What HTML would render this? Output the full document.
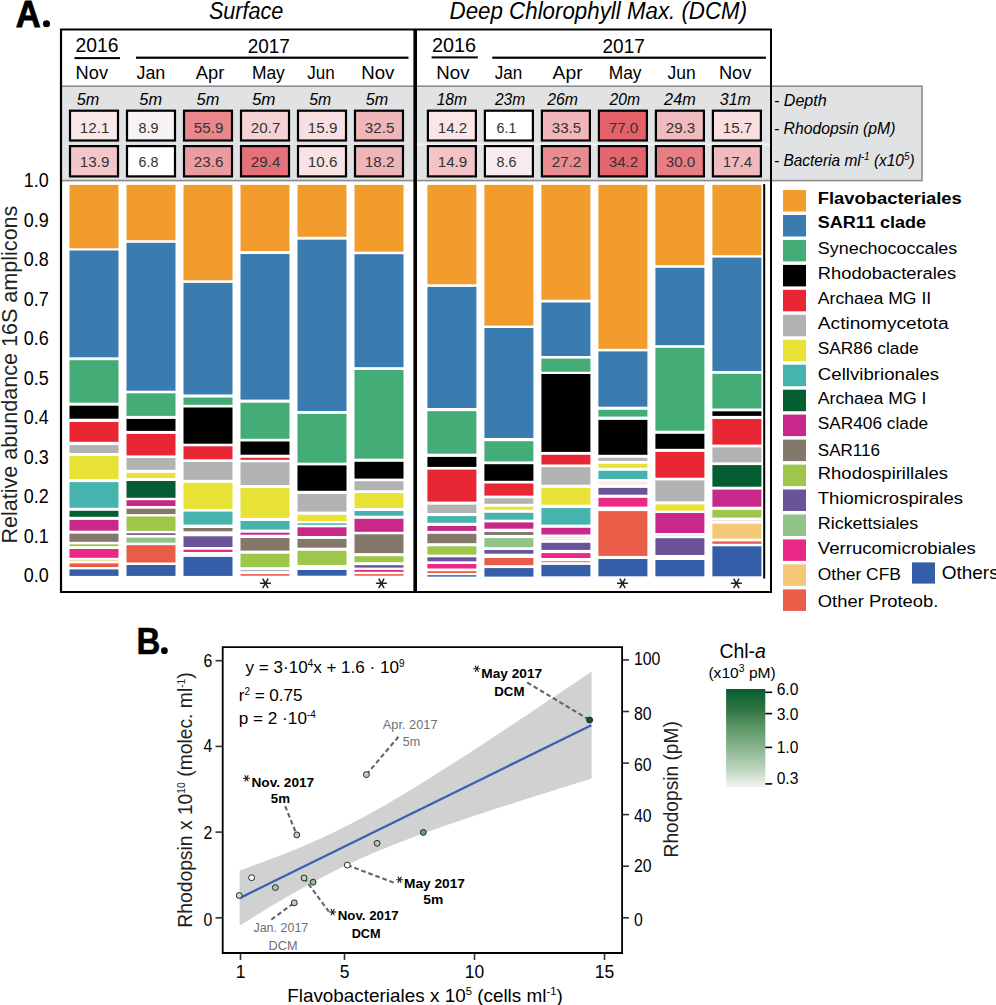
<!DOCTYPE html>
<html><head><meta charset="utf-8"><style>
html,body{margin:0;padding:0;background:#fff;}
svg{display:block;}
text{font-family:"Liberation Sans", sans-serif;}
</style></head><body>
<svg width="996" height="1005" viewBox="0 0 996 1005">
<rect width="996" height="1005" fill="#fff"/>
<rect x="61" y="86.2" width="861" height="94.4" fill="#e1e2e4" stroke="#8c8c8c" stroke-width="1.6"/>
<rect x="417" y="143.5" width="353" height="2" fill="#f4f4f5"/>
<rect x="69.5" y="184.9" width="49.0" height="63.4" fill="#f39c2e"/>
<rect x="69.5" y="250.5" width="49.0" height="106.8" fill="#3b7cb0"/>
<rect x="69.5" y="360.2" width="49.0" height="42.5" fill="#44ad77"/>
<rect x="69.5" y="405.7" width="49.0" height="13.0" fill="#000000"/>
<rect x="69.5" y="422" width="49.0" height="19.8" fill="#e82634"/>
<rect x="69.5" y="445.1" width="49.0" height="7.9" fill="#b1b3b3"/>
<rect x="69.5" y="455.9" width="49.0" height="23.3" fill="#e7e235"/>
<rect x="69.5" y="482.1" width="49.0" height="25.7" fill="#47b3ae"/>
<rect x="69.5" y="510.8" width="49.0" height="6.0" fill="#045e32"/>
<rect x="69.5" y="519.9" width="49.0" height="10.8" fill="#c8288a"/>
<rect x="69.5" y="533.6" width="49.0" height="8.2" fill="#84786a"/>
<rect x="69.5" y="544.3" width="49.0" height="1.8" fill="#9dc64a"/>
<rect x="69.5" y="549" width="49.0" height="8.8" fill="#ea2886"/>
<rect x="69.5" y="559.8" width="49.0" height="0.9" fill="#f5c878"/>
<rect x="69.5" y="563.4" width="49.0" height="3.6" fill="#e95c47"/>
<rect x="69.5" y="569.4" width="49.0" height="6.5" fill="#345ea8"/>
<rect x="126.5" y="184.9" width="49.0" height="55.3" fill="#f39c2e"/>
<rect x="126.5" y="242.8" width="49.0" height="147.9" fill="#3b7cb0"/>
<rect x="126.5" y="393.3" width="49.0" height="22.6" fill="#44ad77"/>
<rect x="126.5" y="418.9" width="49.0" height="12.0" fill="#000000"/>
<rect x="126.5" y="433.9" width="49.0" height="21.5" fill="#e82634"/>
<rect x="126.5" y="458" width="49.0" height="11.8" fill="#b1b3b3"/>
<rect x="126.5" y="472.9" width="49.0" height="5.1" fill="#e7e235"/>
<rect x="126.5" y="481" width="49.0" height="16.8" fill="#045e32"/>
<rect x="126.5" y="500.2" width="49.0" height="5.8" fill="#c8288a"/>
<rect x="126.5" y="508.7" width="49.0" height="5.4" fill="#84786a"/>
<rect x="126.5" y="516.5" width="49.0" height="14.4" fill="#9dc64a"/>
<rect x="126.5" y="533.3" width="49.0" height="1.6" fill="#6a5499"/>
<rect x="126.5" y="537.6" width="49.0" height="5.1" fill="#91c38b"/>
<rect x="126.5" y="545.2" width="49.0" height="17.3" fill="#e95c47"/>
<rect x="126.5" y="565" width="49.0" height="10.9" fill="#345ea8"/>
<rect x="183.5" y="184.9" width="49.0" height="95.4" fill="#f39c2e"/>
<rect x="183.5" y="282.9" width="49.0" height="111.6" fill="#3b7cb0"/>
<rect x="183.5" y="397.5" width="49.0" height="7.3" fill="#44ad77"/>
<rect x="183.5" y="407.5" width="49.0" height="36.2" fill="#000000"/>
<rect x="183.5" y="446.3" width="49.0" height="13.0" fill="#e82634"/>
<rect x="183.5" y="462" width="49.0" height="17.8" fill="#b1b3b3"/>
<rect x="183.5" y="482.8" width="49.0" height="26.2" fill="#e7e235"/>
<rect x="183.5" y="511.6" width="49.0" height="13.0" fill="#47b3ae"/>
<rect x="183.5" y="528" width="49.0" height="3.3" fill="#84786a"/>
<rect x="183.5" y="536.3" width="49.0" height="10.7" fill="#6a5499"/>
<rect x="183.5" y="549.7" width="49.0" height="2.3" fill="#ea2886"/>
<rect x="183.5" y="556.9" width="49.0" height="19.0" fill="#345ea8"/>
<rect x="240.5" y="184.9" width="49.0" height="66.2" fill="#f39c2e"/>
<rect x="240.5" y="254" width="49.0" height="145.6" fill="#3b7cb0"/>
<rect x="240.5" y="402.7" width="49.0" height="36.1" fill="#44ad77"/>
<rect x="240.5" y="441.5" width="49.0" height="13.2" fill="#000000"/>
<rect x="240.5" y="457.8" width="49.0" height="2.0" fill="#e82634"/>
<rect x="240.5" y="462.3" width="49.0" height="22.7" fill="#b1b3b3"/>
<rect x="240.5" y="488.1" width="49.0" height="29.8" fill="#e7e235"/>
<rect x="240.5" y="521" width="49.0" height="8.6" fill="#47b3ae"/>
<rect x="240.5" y="532.7" width="49.0" height="2.0" fill="#c8288a"/>
<rect x="240.5" y="538" width="49.0" height="12.6" fill="#84786a"/>
<rect x="240.5" y="553.7" width="49.0" height="13.5" fill="#9dc64a"/>
<rect x="240.5" y="570" width="49.0" height="1.2" fill="#b8aed8"/>
<rect x="240.5" y="574.1" width="49.0" height="1.6" fill="#e95c47"/>
<rect x="297.5" y="184.9" width="49.0" height="51.9" fill="#f39c2e"/>
<rect x="297.5" y="239.7" width="49.0" height="171.3" fill="#3b7cb0"/>
<rect x="297.5" y="413.9" width="49.0" height="48.8" fill="#44ad77"/>
<rect x="297.5" y="465.4" width="49.0" height="25.4" fill="#000000"/>
<rect x="297.5" y="494" width="49.0" height="17.6" fill="#b1b3b3"/>
<rect x="297.5" y="514.8" width="49.0" height="6.2" fill="#e7e235"/>
<rect x="297.5" y="523.3" width="49.0" height="1.5" fill="#47b3ae"/>
<rect x="297.5" y="527.3" width="49.0" height="8.7" fill="#c8288a"/>
<rect x="297.5" y="538.9" width="49.0" height="8.8" fill="#84786a"/>
<rect x="297.5" y="550.8" width="49.0" height="14.1" fill="#9dc64a"/>
<rect x="297.5" y="570" width="49.0" height="5.7" fill="#345ea8"/>
<rect x="354.5" y="184.9" width="49.0" height="66.7" fill="#f39c2e"/>
<rect x="354.5" y="254.2" width="49.0" height="113.0" fill="#3b7cb0"/>
<rect x="354.5" y="370" width="49.0" height="88.7" fill="#44ad77"/>
<rect x="354.5" y="461.8" width="49.0" height="16.8" fill="#000000"/>
<rect x="354.5" y="481.2" width="49.0" height="9.0" fill="#b1b3b3"/>
<rect x="354.5" y="493.1" width="49.0" height="14.9" fill="#e7e235"/>
<rect x="354.5" y="511" width="49.0" height="4.7" fill="#47b3ae"/>
<rect x="354.5" y="518.8" width="49.0" height="13.0" fill="#c8288a"/>
<rect x="354.5" y="534.3" width="49.0" height="18.8" fill="#84786a"/>
<rect x="354.5" y="556.2" width="49.0" height="6.0" fill="#9dc64a"/>
<rect x="354.5" y="565.2" width="49.0" height="2.4" fill="#6a5499"/>
<rect x="354.5" y="570" width="49.0" height="1.8" fill="#ea2886"/>
<rect x="354.5" y="574.1" width="49.0" height="1.6" fill="#e95c47"/>
<rect x="427.4" y="184.9" width="49.0" height="99.4" fill="#f39c2e"/>
<rect x="427.4" y="286.9" width="49.0" height="121.1" fill="#3b7cb0"/>
<rect x="427.4" y="411.2" width="49.0" height="42.5" fill="#44ad77"/>
<rect x="427.4" y="456.9" width="49.0" height="10.0" fill="#000000"/>
<rect x="427.4" y="469.6" width="49.0" height="32.0" fill="#e82634"/>
<rect x="427.4" y="504.7" width="49.0" height="8.3" fill="#b1b3b3"/>
<rect x="427.4" y="516.1" width="49.0" height="6.7" fill="#47b3ae"/>
<rect x="427.4" y="526" width="49.0" height="4.9" fill="#c8288a"/>
<rect x="427.4" y="533.8" width="49.0" height="9.4" fill="#84786a"/>
<rect x="427.4" y="546.3" width="49.0" height="8.3" fill="#9dc64a"/>
<rect x="427.4" y="557.3" width="49.0" height="4.0" fill="#6a5499"/>
<rect x="427.4" y="564" width="49.0" height="4.5" fill="#ea2886"/>
<rect x="427.4" y="571.2" width="49.0" height="1.8" fill="#e95c47"/>
<rect x="427.4" y="575.2" width="49.0" height="1.4" fill="#345ea8"/>
<rect x="484.4" y="184.9" width="49.0" height="140.7" fill="#f39c2e"/>
<rect x="484.4" y="328" width="49.0" height="110.0" fill="#3b7cb0"/>
<rect x="484.4" y="441.2" width="49.0" height="20.2" fill="#44ad77"/>
<rect x="484.4" y="464.2" width="49.0" height="16.6" fill="#000000"/>
<rect x="484.4" y="483.5" width="49.0" height="12.1" fill="#e82634"/>
<rect x="484.4" y="498.3" width="49.0" height="5.5" fill="#b1b3b3"/>
<rect x="484.4" y="506.7" width="49.0" height="3.1" fill="#e7e235"/>
<rect x="484.4" y="512.8" width="49.0" height="6.9" fill="#47b3ae"/>
<rect x="484.4" y="522.4" width="49.0" height="6.3" fill="#c8288a"/>
<rect x="484.4" y="532" width="49.0" height="3.0" fill="#84786a"/>
<rect x="484.4" y="538.1" width="49.0" height="9.1" fill="#91c38b"/>
<rect x="484.4" y="550" width="49.0" height="3.7" fill="#6a5499"/>
<rect x="484.4" y="558" width="49.0" height="7.2" fill="#e95c47"/>
<rect x="484.4" y="568.1" width="49.0" height="8.5" fill="#345ea8"/>
<rect x="541.4" y="184.9" width="49.0" height="114.9" fill="#f39c2e"/>
<rect x="541.4" y="302.5" width="49.0" height="53.5" fill="#3b7cb0"/>
<rect x="541.4" y="358.6" width="49.0" height="13.1" fill="#44ad77"/>
<rect x="541.4" y="374" width="49.0" height="77.9" fill="#000000"/>
<rect x="541.4" y="454.8" width="49.0" height="9.7" fill="#e82634"/>
<rect x="541.4" y="467.2" width="49.0" height="17.5" fill="#b1b3b3"/>
<rect x="541.4" y="487.9" width="49.0" height="16.8" fill="#e7e235"/>
<rect x="541.4" y="508" width="49.0" height="16.6" fill="#47b3ae"/>
<rect x="541.4" y="527.8" width="49.0" height="6.7" fill="#c8288a"/>
<rect x="541.4" y="536.8" width="49.0" height="0.8" fill="#dbe9c4"/>
<rect x="541.4" y="538.8" width="49.0" height="0.8" fill="#dbe9c4"/>
<rect x="541.4" y="542.8" width="49.0" height="7.1" fill="#6a5499"/>
<rect x="541.4" y="553.1" width="49.0" height="4.9" fill="#ea2886"/>
<rect x="541.4" y="561.3" width="49.0" height="0.9" fill="#e95c47"/>
<rect x="541.4" y="564.9" width="49.0" height="11.4" fill="#345ea8"/>
<rect x="598.4" y="184.9" width="49.0" height="163.9" fill="#f39c2e"/>
<rect x="598.4" y="351.4" width="49.0" height="55.3" fill="#3b7cb0"/>
<rect x="598.4" y="409.8" width="49.0" height="6.8" fill="#44ad77"/>
<rect x="598.4" y="419.9" width="49.0" height="34.9" fill="#000000"/>
<rect x="598.4" y="457.8" width="49.0" height="3.1" fill="#b1b3b3"/>
<rect x="598.4" y="463.8" width="49.0" height="4.0" fill="#e7e235"/>
<rect x="598.4" y="470.8" width="49.0" height="8.2" fill="#47b3ae"/>
<rect x="598.4" y="481.8" width="49.0" height="0.8" fill="#f7d0e0"/>
<rect x="598.4" y="483.6" width="49.0" height="0.8" fill="#dbe9c4"/>
<rect x="598.4" y="487.9" width="49.0" height="6.8" fill="#6a5499"/>
<rect x="598.4" y="497.8" width="49.0" height="8.8" fill="#ea2886"/>
<rect x="598.4" y="511.1" width="49.0" height="44.8" fill="#e95c47"/>
<rect x="598.4" y="559" width="49.0" height="17.3" fill="#345ea8"/>
<rect x="655.4" y="184.9" width="49.0" height="80.3" fill="#f39c2e"/>
<rect x="655.4" y="267.8" width="49.0" height="77.4" fill="#3b7cb0"/>
<rect x="655.4" y="347.8" width="49.0" height="82.9" fill="#44ad77"/>
<rect x="655.4" y="433.8" width="49.0" height="15.0" fill="#000000"/>
<rect x="655.4" y="451.9" width="49.0" height="25.8" fill="#e82634"/>
<rect x="655.4" y="480.4" width="49.0" height="20.9" fill="#b1b3b3"/>
<rect x="655.4" y="504.4" width="49.0" height="6.3" fill="#e7e235"/>
<rect x="655.4" y="513" width="49.0" height="20.0" fill="#c8288a"/>
<rect x="655.4" y="535.3" width="49.0" height="0.8" fill="#dbe9c4"/>
<rect x="655.4" y="538.2" width="49.0" height="16.8" fill="#6a5499"/>
<rect x="655.4" y="560" width="49.0" height="16.3" fill="#345ea8"/>
<rect x="712.4" y="184.9" width="49.0" height="70.3" fill="#f39c2e"/>
<rect x="712.4" y="257.6" width="49.0" height="113.4" fill="#3b7cb0"/>
<rect x="712.4" y="373.8" width="49.0" height="34.7" fill="#44ad77"/>
<rect x="712.4" y="411.3" width="49.0" height="4.6" fill="#000000"/>
<rect x="712.4" y="419" width="49.0" height="25.6" fill="#e82634"/>
<rect x="712.4" y="447.4" width="49.0" height="15.0" fill="#b1b3b3"/>
<rect x="712.4" y="465.1" width="49.0" height="21.6" fill="#045e32"/>
<rect x="712.4" y="489.6" width="49.0" height="17.1" fill="#c8288a"/>
<rect x="712.4" y="509.8" width="49.0" height="7.8" fill="#9dc64a"/>
<rect x="712.4" y="520.3" width="49.0" height="0.8" fill="#f7d0e0"/>
<rect x="712.4" y="523.7" width="49.0" height="15.0" fill="#f5c878"/>
<rect x="712.4" y="541.4" width="49.0" height="2.4" fill="#e95c47"/>
<rect x="712.4" y="546.3" width="49.0" height="30.0" fill="#345ea8"/>
<rect x="70.0" y="110.7" width="48" height="29.8" fill="#fbe9ea" stroke="#000" stroke-width="2.2"/>
<rect x="70.0" y="146.1" width="48" height="30.3" fill="#f3c6c9" stroke="#000" stroke-width="2.2"/>
<text x="94.6" y="133.1" font-size="15.2" text-anchor="middle" fill="#333">12.1</text>
<text x="94.6" y="166.9" font-size="15.2" text-anchor="middle" fill="#333">13.9</text>
<rect x="127.0" y="110.7" width="48" height="29.8" fill="#f7f2f4" stroke="#000" stroke-width="2.2"/>
<rect x="127.0" y="146.1" width="48" height="30.3" fill="#ffffff" stroke="#000" stroke-width="2.2"/>
<text x="148.5" y="133.1" font-size="15.3" text-anchor="middle" fill="#333" textLength="19.9" lengthAdjust="spacingAndGlyphs">8.9</text>
<text x="148.5" y="166.9" font-size="15.3" text-anchor="middle" fill="#333" textLength="19.9" lengthAdjust="spacingAndGlyphs">6.8</text>
<rect x="184.0" y="110.7" width="48" height="29.8" fill="#e9878c" stroke="#000" stroke-width="2.2"/>
<rect x="184.0" y="146.1" width="48" height="30.3" fill="#eb9ca0" stroke="#000" stroke-width="2.2"/>
<text x="208.6" y="133.1" font-size="15.2" text-anchor="middle" fill="#333">55.9</text>
<text x="208.6" y="166.9" font-size="15.2" text-anchor="middle" fill="#333">23.6</text>
<rect x="241.0" y="110.7" width="48" height="29.8" fill="#f5d2d4" stroke="#000" stroke-width="2.2"/>
<rect x="241.0" y="146.1" width="48" height="30.3" fill="#e5727a" stroke="#000" stroke-width="2.2"/>
<text x="265.6" y="133.1" font-size="15.2" text-anchor="middle" fill="#333">20.7</text>
<text x="265.6" y="166.9" font-size="15.2" text-anchor="middle" fill="#333">29.4</text>
<rect x="298.0" y="110.7" width="48" height="29.8" fill="#f8e0e2" stroke="#000" stroke-width="2.2"/>
<rect x="298.0" y="146.1" width="48" height="30.3" fill="#f8e2e3" stroke="#000" stroke-width="2.2"/>
<text x="322.6" y="133.1" font-size="15.2" text-anchor="middle" fill="#333">15.9</text>
<text x="322.6" y="166.9" font-size="15.2" text-anchor="middle" fill="#333">10.6</text>
<rect x="355.0" y="110.7" width="48" height="29.8" fill="#f0b7ba" stroke="#000" stroke-width="2.2"/>
<rect x="355.0" y="146.1" width="48" height="30.3" fill="#efb4b7" stroke="#000" stroke-width="2.2"/>
<text x="379.6" y="133.1" font-size="15.2" text-anchor="middle" fill="#333">32.5</text>
<text x="379.6" y="166.9" font-size="15.2" text-anchor="middle" fill="#333">18.2</text>
<rect x="427.9" y="110.7" width="48" height="29.8" fill="#fae6e7" stroke="#000" stroke-width="2.2"/>
<rect x="427.9" y="146.1" width="48" height="30.3" fill="#f3c3c6" stroke="#000" stroke-width="2.2"/>
<text x="452.5" y="133.1" font-size="15.2" text-anchor="middle" fill="#333">14.2</text>
<text x="452.5" y="166.9" font-size="15.2" text-anchor="middle" fill="#333">14.9</text>
<rect x="484.9" y="110.7" width="48" height="29.8" fill="#ffffff" stroke="#000" stroke-width="2.2"/>
<rect x="484.9" y="146.1" width="48" height="30.3" fill="#f9ecee" stroke="#000" stroke-width="2.2"/>
<text x="506.4" y="133.1" font-size="15.3" text-anchor="middle" fill="#333" textLength="19.9" lengthAdjust="spacingAndGlyphs">6.1</text>
<text x="506.4" y="166.9" font-size="15.3" text-anchor="middle" fill="#333" textLength="19.9" lengthAdjust="spacingAndGlyphs">8.6</text>
<rect x="541.9" y="110.7" width="48" height="29.8" fill="#f0b6b9" stroke="#000" stroke-width="2.2"/>
<rect x="541.9" y="146.1" width="48" height="30.3" fill="#e98c91" stroke="#000" stroke-width="2.2"/>
<text x="566.5" y="133.1" font-size="15.2" text-anchor="middle" fill="#333">33.5</text>
<text x="566.5" y="166.9" font-size="15.2" text-anchor="middle" fill="#333">27.2</text>
<rect x="598.9" y="110.7" width="48" height="29.8" fill="#e5616a" stroke="#000" stroke-width="2.2"/>
<rect x="598.9" y="146.1" width="48" height="30.3" fill="#e4656d" stroke="#000" stroke-width="2.2"/>
<text x="623.5" y="133.1" font-size="15.2" text-anchor="middle" fill="#333">77.0</text>
<text x="623.5" y="166.9" font-size="15.2" text-anchor="middle" fill="#333">34.2</text>
<rect x="655.9" y="110.7" width="48" height="29.8" fill="#f0bbbe" stroke="#000" stroke-width="2.2"/>
<rect x="655.9" y="146.1" width="48" height="30.3" fill="#e77e84" stroke="#000" stroke-width="2.2"/>
<text x="680.5" y="133.1" font-size="15.2" text-anchor="middle" fill="#333">29.3</text>
<text x="680.5" y="166.9" font-size="15.2" text-anchor="middle" fill="#333">30.0</text>
<rect x="712.9" y="110.7" width="48" height="29.8" fill="#f9dfe0" stroke="#000" stroke-width="2.2"/>
<rect x="712.9" y="146.1" width="48" height="30.3" fill="#f1bbbe" stroke="#000" stroke-width="2.2"/>
<text x="737.5" y="133.1" font-size="15.2" text-anchor="middle" fill="#333">15.7</text>
<text x="737.5" y="166.9" font-size="15.2" text-anchor="middle" fill="#333">17.4</text>
<path d="M61,592 V29.5 H414.5 V592 Z" fill="none" stroke="#000" stroke-width="2.2"/>
<path d="M416,592 V29.5 H771 V592 Z" fill="none" stroke="#000" stroke-width="2"/>
<rect x="763.2" y="184.1" width="2" height="394.4" fill="#000"/>
<text transform="translate(15.84,26.9) scale(0.932,1)" font-size="37" font-weight="bold" fill="#000" stroke="#000" stroke-width="0.9">A</text>
<circle cx="46.5" cy="23.7" r="3.55" fill="#000"/>
<text x="208.9" y="18.5" font-size="23.5" text-anchor="start" font-style="italic" textLength="74.5" lengthAdjust="spacingAndGlyphs">Surface</text>
<text x="449.6" y="18.9" font-size="23.5" text-anchor="start" font-style="italic" textLength="297.5" lengthAdjust="spacingAndGlyphs">Deep Chlorophyll Max. (DCM)</text>
<text x="75.6" y="52.4" font-size="20" text-anchor="start" textLength="42.9" lengthAdjust="spacingAndGlyphs">2016</text>
<rect x="74.5" y="57.1" width="45.5" height="2" fill="#000"/>
<text x="247.7" y="52.6" font-size="20" text-anchor="start" textLength="42.1" lengthAdjust="spacingAndGlyphs">2017</text>
<rect x="136" y="56.6" width="272.5" height="2.2" fill="#000"/>
<text x="431.9" y="52.4" font-size="20" text-anchor="start" textLength="44.1" lengthAdjust="spacingAndGlyphs">2016</text>
<rect x="431.6" y="56.4" width="46.2" height="2" fill="#000"/>
<text x="602.5" y="52.6" font-size="20" text-anchor="start" textLength="42.3" lengthAdjust="spacingAndGlyphs">2017</text>
<rect x="492.3" y="56.6" width="273.6" height="2.2" fill="#000"/>
<text x="75.6" y="79" font-size="18.7" text-anchor="start" textLength="32.4" lengthAdjust="spacingAndGlyphs">Nov</text>
<text x="136.5" y="79" font-size="18.7" text-anchor="start" textLength="28.8" lengthAdjust="spacingAndGlyphs">Jan</text>
<text x="195.7" y="79" font-size="18.7" text-anchor="start" textLength="28.6" lengthAdjust="spacingAndGlyphs">Apr</text>
<text x="251.9" y="79" font-size="18.7" text-anchor="start" textLength="32.9" lengthAdjust="spacingAndGlyphs">May</text>
<text x="307.3" y="79" font-size="18.7" text-anchor="start" textLength="27.5" lengthAdjust="spacingAndGlyphs">Jun</text>
<text x="361.3" y="79" font-size="18.7" text-anchor="start" textLength="33.1" lengthAdjust="spacingAndGlyphs">Nov</text>
<text x="436.3" y="79" font-size="18.7" text-anchor="start" textLength="33.2" lengthAdjust="spacingAndGlyphs">Nov</text>
<text x="494.8" y="79" font-size="18.7" text-anchor="start" textLength="27.5" lengthAdjust="spacingAndGlyphs">Jan</text>
<text x="552.6" y="79" font-size="18.7" text-anchor="start" textLength="30.0" lengthAdjust="spacingAndGlyphs">Apr</text>
<text x="608.7" y="79" font-size="18.7" text-anchor="start" textLength="32.8" lengthAdjust="spacingAndGlyphs">May</text>
<text x="667.6" y="79" font-size="18.7" text-anchor="start" textLength="28.2" lengthAdjust="spacingAndGlyphs">Jun</text>
<text x="718.9" y="79" font-size="18.7" text-anchor="start" textLength="32.5" lengthAdjust="spacingAndGlyphs">Nov</text>
<text x="76.7" y="104.9" font-size="17" text-anchor="start" font-style="italic" textLength="22.5" lengthAdjust="spacingAndGlyphs">5m</text>
<text x="139.3" y="104.9" font-size="17" text-anchor="start" font-style="italic" textLength="22.7" lengthAdjust="spacingAndGlyphs">5m</text>
<text x="196.6" y="104.9" font-size="17" text-anchor="start" font-style="italic" textLength="22.7" lengthAdjust="spacingAndGlyphs">5m</text>
<text x="251.9" y="104.9" font-size="17" text-anchor="start" font-style="italic" textLength="23.6" lengthAdjust="spacingAndGlyphs">5m</text>
<text x="309.3" y="104.9" font-size="17" text-anchor="start" font-style="italic" textLength="21.9" lengthAdjust="spacingAndGlyphs">5m</text>
<text x="365.8" y="104.9" font-size="17" text-anchor="start" font-style="italic" textLength="22.4" lengthAdjust="spacingAndGlyphs">5m</text>
<text x="436.7" y="104.9" font-size="17" text-anchor="start" font-style="italic" textLength="30.3" lengthAdjust="spacingAndGlyphs">18m</text>
<text x="494.9" y="104.9" font-size="17" text-anchor="start" font-style="italic" textLength="30.3" lengthAdjust="spacingAndGlyphs">23m</text>
<text x="547.2" y="104.9" font-size="17" text-anchor="start" font-style="italic" textLength="30.7" lengthAdjust="spacingAndGlyphs">26m</text>
<text x="609.6" y="104.9" font-size="17" text-anchor="start" font-style="italic" textLength="30.4" lengthAdjust="spacingAndGlyphs">20m</text>
<text x="664.1" y="104.9" font-size="17" text-anchor="start" font-style="italic" textLength="31.6" lengthAdjust="spacingAndGlyphs">24m</text>
<text x="719.8" y="104.9" font-size="17" text-anchor="start" font-style="italic" textLength="31.0" lengthAdjust="spacingAndGlyphs">31m</text>
<text x="774" y="105.8" font-size="17" text-anchor="start" font-style="italic" textLength="52.7" lengthAdjust="spacingAndGlyphs">- Depth</text>
<text x="774" y="133.9" font-size="17" text-anchor="start" font-style="italic" textLength="121.4" lengthAdjust="spacingAndGlyphs">- Rhodopsin (pM)</text>
<text x="774" y="166" font-size="17" text-anchor="start" font-style="italic" textLength="140.7" lengthAdjust="spacingAndGlyphs">- Bacteria ml<tspan font-size="11" dy="-6">-1</tspan><tspan dy="6"> (x10</tspan><tspan font-size="11" dy="-6">5</tspan><tspan dy="6">)</tspan></text>
<text x="23.7" y="582.3" font-size="19.5" text-anchor="start" textLength="25" lengthAdjust="spacingAndGlyphs">0.0</text>
<text x="23.7" y="542.8" font-size="19.5" text-anchor="start" textLength="25" lengthAdjust="spacingAndGlyphs">0.1</text>
<text x="23.7" y="503.3" font-size="19.5" text-anchor="start" textLength="25" lengthAdjust="spacingAndGlyphs">0.2</text>
<text x="23.7" y="463.8" font-size="19.5" text-anchor="start" textLength="25" lengthAdjust="spacingAndGlyphs">0.3</text>
<text x="23.7" y="424.3" font-size="19.5" text-anchor="start" textLength="25" lengthAdjust="spacingAndGlyphs">0.4</text>
<text x="23.7" y="384.8" font-size="19.5" text-anchor="start" textLength="25" lengthAdjust="spacingAndGlyphs">0.5</text>
<text x="23.7" y="345.2" font-size="19.5" text-anchor="start" textLength="25" lengthAdjust="spacingAndGlyphs">0.6</text>
<text x="23.7" y="305.7" font-size="19.5" text-anchor="start" textLength="25" lengthAdjust="spacingAndGlyphs">0.7</text>
<text x="23.7" y="266.2" font-size="19.5" text-anchor="start" textLength="25" lengthAdjust="spacingAndGlyphs">0.8</text>
<text x="23.7" y="226.7" font-size="19.5" text-anchor="start" textLength="25" lengthAdjust="spacingAndGlyphs">0.9</text>
<text x="23.7" y="187.2" font-size="19.5" text-anchor="start" textLength="25" lengthAdjust="spacingAndGlyphs">1.0</text>
<text transform="translate(17.2,543.6) rotate(-90)" font-size="21.8" fill="#231f20" textLength="338" lengthAdjust="spacingAndGlyphs">Relative abundance 16S amplicons</text>
<path d="M260.50,583.30L270.30,583.30M262.95,579.06L267.85,587.54M267.85,579.06L262.95,587.54" stroke="#231f20" stroke-width="1.5" stroke-linecap="round" fill="none"/>
<path d="M376.50,583.30L386.30,583.30M378.95,579.06L383.85,587.54M383.85,579.06L378.95,587.54" stroke="#231f20" stroke-width="1.5" stroke-linecap="round" fill="none"/>
<path d="M617.60,583.30L627.40,583.30M620.05,579.06L624.95,587.54M624.95,579.06L620.05,587.54" stroke="#231f20" stroke-width="1.5" stroke-linecap="round" fill="none"/>
<path d="M731.50,583.30L741.30,583.30M733.95,579.06L738.85,587.54M738.85,579.06L733.95,587.54" stroke="#231f20" stroke-width="1.5" stroke-linecap="round" fill="none"/>
<rect x="783" y="190.0" width="23" height="21.5" fill="#f39c2e"/>
<text x="817.8" y="203.8" font-size="17.4" text-anchor="start" font-weight="bold" textLength="144" lengthAdjust="spacingAndGlyphs">Flavobacteriales</text>
<rect x="783" y="215.0" width="23" height="21.5" fill="#3b7cb0"/>
<text x="817.8" y="228.3" font-size="17.4" text-anchor="start" font-weight="bold" textLength="108.2" lengthAdjust="spacingAndGlyphs">SAR11 clade</text>
<rect x="783" y="239.9" width="23" height="21.5" fill="#44ad77"/>
<text x="817.8" y="253.7" font-size="17.4" text-anchor="start" textLength="139.5" lengthAdjust="spacingAndGlyphs">Synechococcales</text>
<rect x="783" y="264.9" width="23" height="21.5" fill="#000000"/>
<text x="817.8" y="278.7" font-size="17.4" text-anchor="start" textLength="138.4" lengthAdjust="spacingAndGlyphs">Rhodobacterales</text>
<rect x="783" y="289.8" width="23" height="21.5" fill="#e82634"/>
<text x="817.8" y="303.7" font-size="17.4" text-anchor="start" textLength="113.4" lengthAdjust="spacingAndGlyphs">Archaea MG II</text>
<rect x="783" y="314.8" width="23" height="21.5" fill="#b1b3b3"/>
<text x="817.8" y="328.6" font-size="17.4" text-anchor="start" textLength="130.9" lengthAdjust="spacingAndGlyphs">Actinomycetota</text>
<rect x="783" y="339.8" width="23" height="21.5" fill="#e7e235"/>
<text x="817.8" y="353.6" font-size="17.4" text-anchor="start" textLength="100.9" lengthAdjust="spacingAndGlyphs">SAR86 clade</text>
<rect x="783" y="364.7" width="23" height="21.5" fill="#47b3ae"/>
<text x="817.8" y="380.1" font-size="17.4" text-anchor="start" textLength="121.3" lengthAdjust="spacingAndGlyphs">Cellvibrionales</text>
<rect x="783" y="389.7" width="23" height="21.5" fill="#045e32"/>
<text x="817.8" y="403.9" font-size="17.4" text-anchor="start" textLength="108.7" lengthAdjust="spacingAndGlyphs">Archaea MG I</text>
<rect x="783" y="414.6" width="23" height="21.5" fill="#c8288a"/>
<text x="817.8" y="429" font-size="17.4" text-anchor="start" textLength="110.3" lengthAdjust="spacingAndGlyphs">SAR406 clade</text>
<rect x="783" y="439.6" width="23" height="21.5" fill="#84786a"/>
<text x="817.8" y="456.4" font-size="17.4" text-anchor="start" textLength="62.1" lengthAdjust="spacingAndGlyphs">SAR116</text>
<rect x="783" y="464.6" width="23" height="21.5" fill="#9dc64a"/>
<text x="817.8" y="479.1" font-size="17.4" text-anchor="start" textLength="130.2" lengthAdjust="spacingAndGlyphs">Rhodospirillales</text>
<rect x="783" y="489.5" width="23" height="21.5" fill="#6a5499"/>
<text x="817.8" y="504.2" font-size="17.4" text-anchor="start" textLength="145.2" lengthAdjust="spacingAndGlyphs">Thiomicrospirales</text>
<rect x="783" y="514.5" width="23" height="21.5" fill="#91c38b"/>
<text x="817.8" y="529.3" font-size="17.4" text-anchor="start" textLength="100.5" lengthAdjust="spacingAndGlyphs">Rickettsiales</text>
<rect x="783" y="539.4" width="23" height="21.5" fill="#ea2886"/>
<text x="817.8" y="554.4" font-size="17.4" text-anchor="start" textLength="158.1" lengthAdjust="spacingAndGlyphs">Verrucomicrobiales</text>
<rect x="783" y="564.4" width="23" height="21.5" fill="#f5c878"/>
<text x="817.8" y="580.2" font-size="17.4" text-anchor="start" textLength="83.1" lengthAdjust="spacingAndGlyphs">Other CFB</text>
<rect x="783" y="589.4" width="23" height="21.5" fill="#e95c47"/>
<text x="817.8" y="606.5" font-size="17.4" text-anchor="start" textLength="120.6" lengthAdjust="spacingAndGlyphs">Other Proteob.</text>
<rect x="912" y="562.4" width="23" height="21.2" fill="#345ea8"/>
<text x="941.7" y="578.6" font-size="17.8" text-anchor="start" textLength="57" lengthAdjust="spacingAndGlyphs">Others</text>
<text transform="translate(136.5,653.9) scale(0.89,1)" font-size="37.1" font-weight="bold" fill="#000" stroke="#000" stroke-width="0.6">B</text>
<circle cx="164.4" cy="650.7" r="3.4" fill="#000"/>
<polygon points="239.6,870.4 245.5,868.4 251.3,866.3 257.2,864.1 263.1,862.0 268.9,859.8 274.8,857.5 280.7,855.3 286.5,852.9 292.4,850.6 298.3,848.2 304.1,845.7 310.0,843.2 315.9,840.6 321.7,837.9 327.6,835.2 333.5,832.4 339.3,829.6 345.2,826.6 351.1,823.7 356.9,820.6 362.8,817.5 368.7,814.3 374.5,811.0 380.4,807.7 386.3,804.4 392.1,801.0 398.0,797.5 403.9,794.0 409.7,790.5 415.6,786.9 421.5,783.3 427.3,779.7 433.2,776.0 439.1,772.3 444.9,768.6 450.8,764.8 456.7,761.1 462.5,757.3 468.4,753.5 474.3,749.7 480.1,745.9 486.0,742.0 491.9,738.2 497.7,734.3 503.6,730.4 509.5,726.6 515.3,722.7 521.2,718.8 527.1,714.9 532.9,711.0 538.8,707.0 544.7,703.1 550.5,699.2 556.4,695.3 562.3,691.3 568.1,687.4 574.0,683.4 579.9,679.5 585.7,675.5 591.6,671.6 591.6,778.6 585.7,780.4 579.9,782.2 574.0,784.1 568.1,785.9 562.3,787.7 556.4,789.5 550.5,791.4 544.7,793.2 538.8,795.0 532.9,796.9 527.1,798.7 521.2,800.6 515.3,802.5 509.5,804.4 503.6,806.2 497.7,808.1 491.9,810.0 486.0,812.0 480.1,813.9 474.3,815.8 468.4,817.8 462.5,819.8 456.7,821.8 450.8,823.8 444.9,825.8 439.1,827.8 433.2,829.9 427.3,832.0 421.5,834.1 415.6,836.3 409.7,838.5 403.9,840.7 398.0,843.0 392.1,845.3 386.3,847.7 380.4,850.1 374.5,852.5 368.7,855.0 362.8,857.6 356.9,860.3 351.1,863.0 345.2,865.8 339.3,868.6 333.5,871.5 327.6,874.5 321.7,877.5 315.9,880.7 310.0,883.8 304.1,887.1 298.3,890.4 292.4,893.7 286.5,897.1 280.7,900.6 274.8,904.1 268.9,907.6 263.1,911.2 257.2,914.8 251.3,918.4 245.5,922.1 239.6,925.8" fill="#d0d1d1"/>
<line x1="239.6" y1="898.1" x2="591.3" y2="725.2" stroke="#3a60b5" stroke-width="2.3"/>
<line x1="366.4" y1="774.6" x2="398.5" y2="736.7" stroke="#636466" stroke-width="2.1" stroke-dasharray="4.6,2.9"/>
<line x1="285.2" y1="806.1" x2="296.7" y2="834.7" stroke="#636466" stroke-width="2.1" stroke-dasharray="4.6,2.9"/>
<line x1="271.4" y1="919.5" x2="293.9" y2="903.1" stroke="#636466" stroke-width="2.1" stroke-dasharray="4.6,2.9"/>
<line x1="304.1" y1="878" x2="328.8" y2="911.6" stroke="#636466" stroke-width="2.1" stroke-dasharray="4.6,2.9"/>
<line x1="347.3" y1="865.1" x2="395.8" y2="883.4" stroke="#636466" stroke-width="2.1" stroke-dasharray="4.6,2.9"/>
<line x1="527.2" y1="682.5" x2="589.6" y2="720" stroke="#636466" stroke-width="2.1" stroke-dasharray="4.6,2.9"/>
<circle cx="239.2" cy="895.5" r="2.95" fill="#c1dcbf" stroke="#262626" stroke-width="1"/>
<circle cx="251.6" cy="877.7" r="2.95" fill="#ffffff" stroke="#262626" stroke-width="1"/>
<circle cx="275.4" cy="887.6" r="2.95" fill="#a3caa3" stroke="#262626" stroke-width="1"/>
<circle cx="294.3" cy="902.8" r="2.95" fill="#b5d6b3" stroke="#262626" stroke-width="1"/>
<circle cx="296.8" cy="834.9" r="2.95" fill="#b5d6b3" stroke="#262626" stroke-width="1"/>
<circle cx="304.1" cy="878" r="2.95" fill="#b5d6b3" stroke="#262626" stroke-width="1"/>
<circle cx="313.1" cy="882.2" r="2.95" fill="#8cbd8f" stroke="#262626" stroke-width="1"/>
<circle cx="347.3" cy="865.1" r="2.95" fill="#ffffff" stroke="#262626" stroke-width="1"/>
<circle cx="366.4" cy="774.6" r="2.95" fill="#b5d6b3" stroke="#262626" stroke-width="1"/>
<circle cx="377.1" cy="843.3" r="2.95" fill="#a9cfa8" stroke="#262626" stroke-width="1"/>
<circle cx="423.3" cy="832.4" r="2.95" fill="#6aa673" stroke="#262626" stroke-width="1"/>
<circle cx="589.6" cy="720" r="2.95" fill="#0b5a2e" stroke="#262626" stroke-width="1"/>
<path d="M222.7,647.2 H622.1 V953 H222.7 Z" fill="none" stroke="#000" stroke-width="1.8"/>
<line x1="215.5" y1="917.8" x2="222" y2="917.8" stroke="#333" stroke-width="1.6"/>
<text x="212.4" y="926.0" font-size="18" text-anchor="end" textLength="8.8" lengthAdjust="spacingAndGlyphs">0</text>
<line x1="215.5" y1="832.1" x2="222" y2="832.1" stroke="#333" stroke-width="1.6"/>
<text x="212.4" y="838.7" font-size="18" text-anchor="end" textLength="8.8" lengthAdjust="spacingAndGlyphs">2</text>
<line x1="215.5" y1="746.4" x2="222" y2="746.4" stroke="#333" stroke-width="1.6"/>
<text x="212.4" y="751.9" font-size="18" text-anchor="end" textLength="8.8" lengthAdjust="spacingAndGlyphs">4</text>
<line x1="215.5" y1="660.7" x2="222" y2="660.7" stroke="#333" stroke-width="1.6"/>
<text x="212.4" y="666.9" font-size="18" text-anchor="end" textLength="8.8" lengthAdjust="spacingAndGlyphs">6</text>
<line x1="623" y1="917.8" x2="629" y2="917.8" stroke="#333" stroke-width="1.6"/>
<text x="634" y="925.7" font-size="18" text-anchor="start" textLength="8.8" lengthAdjust="spacingAndGlyphs">0</text>
<line x1="623" y1="866.2" x2="629" y2="866.2" stroke="#333" stroke-width="1.6"/>
<text x="634" y="872.3" font-size="18" text-anchor="start" textLength="17.6" lengthAdjust="spacingAndGlyphs">20</text>
<line x1="623" y1="814.6" x2="629" y2="814.6" stroke="#333" stroke-width="1.6"/>
<text x="634" y="822.4" font-size="18" text-anchor="start" textLength="17.6" lengthAdjust="spacingAndGlyphs">40</text>
<line x1="623" y1="763.1" x2="629" y2="763.1" stroke="#333" stroke-width="1.6"/>
<text x="634" y="771.2" font-size="18" text-anchor="start" textLength="17.6" lengthAdjust="spacingAndGlyphs">60</text>
<line x1="623" y1="711.5" x2="629" y2="711.5" stroke="#333" stroke-width="1.6"/>
<text x="634" y="720.1" font-size="18" text-anchor="start" textLength="17.6" lengthAdjust="spacingAndGlyphs">80</text>
<line x1="623" y1="659.9" x2="629" y2="659.9" stroke="#333" stroke-width="1.6"/>
<text x="634" y="665.4" font-size="18" text-anchor="start" textLength="26.400000000000002" lengthAdjust="spacingAndGlyphs">100</text>
<line x1="240.5" y1="953.5" x2="240.5" y2="960" stroke="#333" stroke-width="1.6"/>
<text x="240.5" y="977.8" font-size="17.5" text-anchor="middle">1</text>
<line x1="344.5" y1="953.5" x2="344.5" y2="960" stroke="#333" stroke-width="1.6"/>
<text x="344.5" y="977.8" font-size="17.5" text-anchor="middle">5</text>
<line x1="474.5" y1="953.5" x2="474.5" y2="960" stroke="#333" stroke-width="1.6"/>
<text x="474.5" y="977.8" font-size="17.5" text-anchor="middle">10</text>
<line x1="604.5" y1="953.5" x2="604.5" y2="960" stroke="#333" stroke-width="1.6"/>
<text x="604.5" y="977.8" font-size="17.5" text-anchor="middle">15</text>
<text x="287.2" y="1002" font-size="18.5" text-anchor="start" textLength="275.5" lengthAdjust="spacingAndGlyphs">Flavobacteriales x 10<tspan font-size="11" dy="-7">5</tspan><tspan dy="7"> (cells ml</tspan><tspan font-size="11" dy="-7">-1</tspan><tspan dy="7">)</tspan></text>
<text transform="translate(192.2,927.7) rotate(-90)" font-size="20.5" fill="#231f20" textLength="255.5" lengthAdjust="spacingAndGlyphs">Rhodopsin x 10<tspan font-size="11" dy="-7">10</tspan><tspan dy="7"> (molec. ml</tspan><tspan font-size="11" dy="-7">-1</tspan><tspan dy="7">)</tspan></text>
<text transform="translate(678.3,857.4) rotate(-90)" font-size="20.5" fill="#231f20" textLength="136.2" lengthAdjust="spacingAndGlyphs">Rhodopsin (pM)</text>
<text x="245.5" y="673" font-size="17.3" text-anchor="start" textLength="159" lengthAdjust="spacingAndGlyphs">y = 3·10<tspan font-size="10" dy="-6">4</tspan><tspan dy="6">x + 1.6 · 10</tspan><tspan font-size="10" dy="-6">9</tspan></text>
<text x="238.7" y="700.6" font-size="17.3" text-anchor="start" textLength="63.9" lengthAdjust="spacingAndGlyphs">r<tspan font-size="10" dy="-6">2</tspan><tspan dy="6"> = 0.75</tspan></text>
<text x="238.7" y="723.5" font-size="17.3" text-anchor="start" textLength="77.1" lengthAdjust="spacingAndGlyphs">p = 2 ·10<tspan font-size="10" dy="-6">-4</tspan></text>
<text x="382.8" y="729" font-size="13.5" text-anchor="start" fill="#6f7073" textLength="54.7" lengthAdjust="spacingAndGlyphs">Apr. 2017</text>
<text x="402.8" y="745.7" font-size="13.5" text-anchor="start" fill="#6f7073" textLength="17.4" lengthAdjust="spacingAndGlyphs">5m</text>
<text x="253.4" y="932" font-size="13.5" text-anchor="start" fill="#6f7073" textLength="54.9" lengthAdjust="spacingAndGlyphs">Jan. 2017</text>
<text x="268.6" y="949.6" font-size="13.5" text-anchor="start" fill="#6f7073" textLength="28.9" lengthAdjust="spacingAndGlyphs">DCM</text>
<path d="M243.40,778.30L249.60,778.30M244.95,775.62L248.05,780.98M248.05,775.62L244.95,780.98" stroke="#231f20" stroke-width="1.1" stroke-linecap="round" fill="none"/>
<text x="251.5" y="786.9" font-size="13.5" text-anchor="start" font-weight="bold" fill="#000" textLength="62.7" lengthAdjust="spacingAndGlyphs">Nov. 2017</text>
<text x="270.8" y="803" font-size="13.5" text-anchor="start" font-weight="bold" fill="#000" textLength="19.2" lengthAdjust="spacingAndGlyphs">5m</text>
<path d="M329.50,912.00L335.70,912.00M331.05,909.32L334.15,914.68M334.15,909.32L331.05,914.68" stroke="#231f20" stroke-width="1.1" stroke-linecap="round" fill="none"/>
<text x="337.7" y="919.5" font-size="13.5" text-anchor="start" font-weight="bold" fill="#000" textLength="61" lengthAdjust="spacingAndGlyphs">Nov. 2017</text>
<text x="351.7" y="937.6" font-size="13.5" text-anchor="start" font-weight="bold" fill="#000" textLength="28.9" lengthAdjust="spacingAndGlyphs">DCM</text>
<path d="M396.50,879.80L402.70,879.80M398.05,877.12L401.15,882.48M401.15,877.12L398.05,882.48" stroke="#231f20" stroke-width="1.1" stroke-linecap="round" fill="none"/>
<text x="404" y="887.5" font-size="13.5" text-anchor="start" font-weight="bold" fill="#000" textLength="60.9" lengthAdjust="spacingAndGlyphs">May 2017</text>
<text x="423.3" y="904.3" font-size="13.5" text-anchor="start" font-weight="bold" fill="#000" textLength="20" lengthAdjust="spacingAndGlyphs">5m</text>
<path d="M473.70,668.80L479.90,668.80M475.25,666.12L478.35,671.48M478.35,666.12L475.25,671.48" stroke="#231f20" stroke-width="1.1" stroke-linecap="round" fill="none"/>
<text x="481.3" y="678" font-size="13.5" text-anchor="start" font-weight="bold" fill="#000" textLength="60.9" lengthAdjust="spacingAndGlyphs">May 2017</text>
<text x="494.3" y="695.7" font-size="13.5" text-anchor="start" font-weight="bold" fill="#000" textLength="30.2" lengthAdjust="spacingAndGlyphs">DCM</text>
<defs><linearGradient id="chl" x1="0" y1="0" x2="0" y2="1"><stop offset="0" stop-color="#075d30"/><stop offset="0.2" stop-color="#2f7342"/><stop offset="0.4" stop-color="#5f9868"/><stop offset="0.6" stop-color="#8ab58f"/><stop offset="0.8" stop-color="#b9d2bb"/><stop offset="1" stop-color="#f0f3f0"/></linearGradient></defs>
<rect x="726.1" y="689" width="39.2" height="98.2" fill="url(#chl)"/>
<line x1="765.3" y1="692.3" x2="772.2" y2="692.3" stroke="#000" stroke-width="1.6"/>
<line x1="765.3" y1="713.6" x2="772.2" y2="713.6" stroke="#000" stroke-width="1.6"/>
<line x1="765.3" y1="747.4" x2="772.2" y2="747.4" stroke="#000" stroke-width="1.6"/>
<line x1="765.3" y1="783.9" x2="772.2" y2="783.9" stroke="#000" stroke-width="1.6"/>
<text x="776.7" y="694.5" font-size="16.3" text-anchor="start" textLength="21.7" lengthAdjust="spacingAndGlyphs">6.0</text>
<text x="776.7" y="720.3" font-size="16.3" text-anchor="start" textLength="21.7" lengthAdjust="spacingAndGlyphs">3.0</text>
<text x="776.7" y="752.8" font-size="16.3" text-anchor="start" textLength="21.7" lengthAdjust="spacingAndGlyphs">1.0</text>
<text x="776.7" y="783.6" font-size="16.3" text-anchor="start" textLength="21.7" lengthAdjust="spacingAndGlyphs">0.3</text>
<text x="719.4" y="658" font-size="20" text-anchor="start" textLength="46.4" lengthAdjust="spacingAndGlyphs">Chl-<tspan font-style="italic">a</tspan></text>
<text x="708.4" y="678.2" font-size="15" text-anchor="start" textLength="67.4" lengthAdjust="spacingAndGlyphs">(x10<tspan font-size="10" dy="-6">3</tspan><tspan dy="6"> pM)</tspan></text>
</svg>
</body></html>
